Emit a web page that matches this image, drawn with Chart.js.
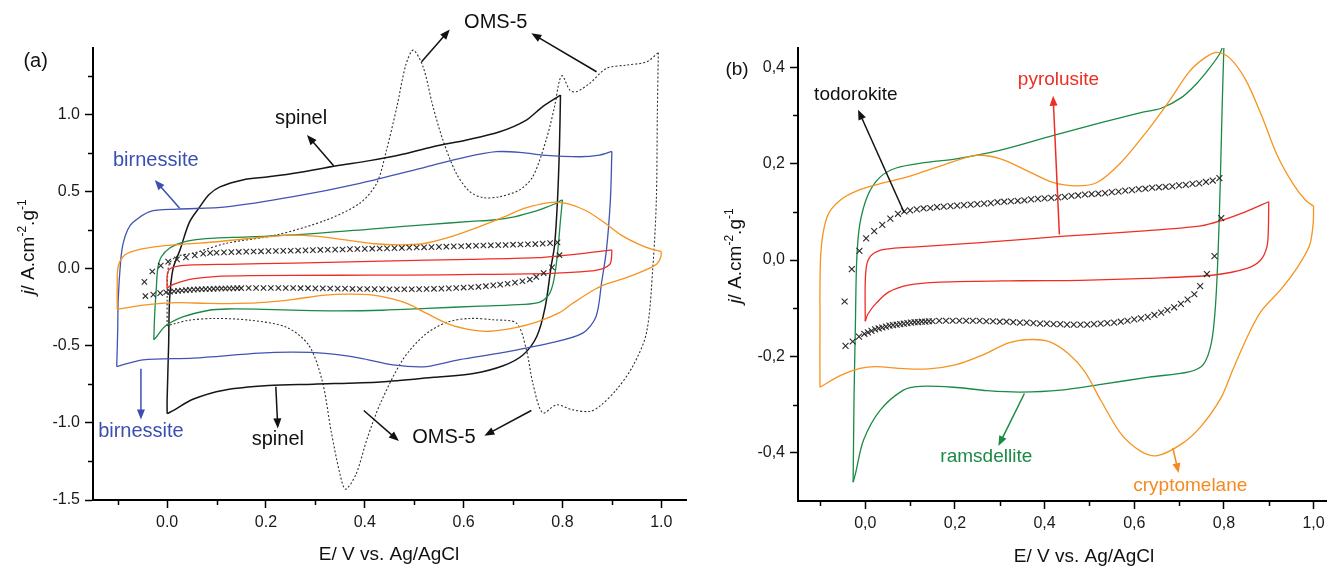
<!DOCTYPE html>
<html>
<head>
<meta charset="utf-8">
<title>Cyclic voltammograms of MnO2 polymorphs</title>
<script src="https://cdn.jsdelivr.net/npm/chart.js@4.4.1/dist/chart.umd.min.js"></script>
<style>
    html, body { margin: 0; padding: 0; background: #fff; overflow: hidden; width: 1327px; height: 566px; }
    #chartA { position: absolute; left: 0; top: 0; }
    #chartB { position: absolute; left: 700px; top: 0; }
</style>
</head>
<body>
<canvas id="chartA" width="700" height="566"></canvas>
<canvas id="chartB" width="660" height="566"></canvas>
<script>
// ---- Data: E (V vs Ag/AgCl) and j (A.cm-2.g-1) ----

// spinel (panel a, black)
const spinelE = [0.000, 0.000, 0.003, 0.005, 0.012, 0.026, 0.045, 0.066, 0.085, 0.107, 0.153, 0.205, 0.270, 0.340, 0.410, 0.470, 0.538, 0.606, 0.673, 0.727, 0.760, 0.796,
    0.794, 0.790, 0.784, 0.777, 0.765, 0.748, 0.720, 0.680, 0.620, 0.540, 0.432, 0.296, 0.205, 0.115, 0.052, 0.015, 0.000];
const spinelJ = [-0.940, -0.850, -0.500, -0.200, 0.000, 0.120, 0.300, 0.400, 0.480, 0.530, 0.575, 0.595, 0.625, 0.665, 0.700, 0.736, 0.790, 0.834, 0.887, 0.963, 1.050, 1.125,
    0.800, 0.445, 0.150, 0.013, -0.250, -0.440, -0.560, -0.630, -0.680, -0.705, -0.735, -0.749, -0.758, -0.788, -0.847, -0.916, -0.940];

// birnessite (panel a, blue)
const birnE = [-0.102, -0.100, -0.099, -0.094, -0.089, -0.080, -0.069, -0.035, 0.019, 0.120, 0.255, 0.390, 0.525, 0.600, 0.666, 0.720, 0.760, 0.835, 0.875, 0.900,
    0.897, 0.889, 0.879, 0.868, 0.841, 0.774, 0.673, 0.592, 0.525, 0.457, 0.390, 0.320, 0.255, 0.187, 0.053, -0.049, -0.102];
const birnJ = [-0.635, -0.400, -0.200, 0.050, 0.164, 0.250, 0.300, 0.370, 0.385, 0.400, 0.466, 0.553, 0.660, 0.720, 0.758, 0.752, 0.736, 0.725, 0.736, 0.760,
    0.445, 0.121, -0.095, -0.310, -0.418, -0.483, -0.548, -0.590, -0.635, -0.624, -0.580, -0.550, -0.542, -0.548, -0.580, -0.591, -0.635];

// OMS-5 (panel a, dotted)
const omsE = [0.000, 0.000, 0.001, 0.005, 0.020, 0.053, 0.120, 0.221, 0.322, 0.390, 0.424, 0.444, 0.465, 0.483, 0.498, 0.518, 0.538, 0.558, 0.585, 0.612, 0.640, 0.673, 0.713, 0.740, 0.767, 0.784, 0.794, 0.800,
    0.815, 0.828, 0.855, 0.889, 0.929, 0.970, 0.994, 0.992, 0.990, 0.983, 0.970, 0.942, 0.909, 0.875, 0.855, 0.820, 0.788, 0.760, 0.740, 0.727, 0.707,
    0.660, 0.613, 0.567, 0.522, 0.477, 0.432, 0.405, 0.382, 0.361, 0.350, 0.332, 0.314, 0.287, 0.242, 0.169, 0.097, 0.043, 0.015, 0.000];
const omsJ = [-0.370, -0.200, -0.050, 0.035, 0.080, 0.100, 0.164, 0.218, 0.315, 0.424, 0.553, 0.769, 1.050, 1.320, 1.416, 1.308, 1.050, 0.834, 0.618, 0.500, 0.460, 0.466, 0.510, 0.596, 0.834, 1.050, 1.220, 1.250,
    1.157, 1.146, 1.200, 1.298, 1.319, 1.340, 1.400, 1.000, 0.445, 0.013, -0.417, -0.635, -0.786, -0.893, -0.926, -0.915, -0.883, -0.935, -0.742, -0.527, -0.354,
    -0.332, -0.323, -0.347, -0.428, -0.590, -0.870, -1.100, -1.335, -1.430, -1.335, -1.056, -0.730, -0.498, -0.381, -0.335, -0.323, -0.335, -0.358, -0.370];

// ramsdellite (green)
const ramsE = [-0.027, -0.025, -0.022, -0.019, -0.012, 0.006, 0.033, 0.069, 0.132, 0.203, 0.302, 0.418, 0.526, 0.615, 0.660, 0.705, 0.740, 0.767, 0.790, 0.797, 0.800,
    0.796, 0.792, 0.787, 0.781, 0.772, 0.754, 0.722, 0.633, 0.526, 0.436, 0.346, 0.272, 0.197, 0.122, 0.085, 0.033, -0.004, -0.021, -0.027];
const ramsJ = [-0.461, -0.285, -0.135, 0.000, 0.075, 0.135, 0.172, 0.191, 0.202, 0.210, 0.228, 0.258, 0.285, 0.306, 0.315, 0.337, 0.367, 0.397, 0.427, 0.442, 0.445,
    0.315, 0.165, 0.015, -0.097, -0.172, -0.217, -0.232, -0.243, -0.258, -0.270, -0.274, -0.271, -0.264, -0.262, -0.270, -0.312, -0.374, -0.440, -0.461];

// cryptomelane (orange)
const cryptoE = [-0.101, -0.101, -0.099, -0.085, -0.056, -0.012, 0.040, 0.100, 0.167, 0.248, 0.302, 0.364, 0.418, 0.472, 0.517, 0.570, 0.624, 0.678, 0.722, 0.758, 0.785, 0.812, 0.848, 0.884, 0.919, 0.955, 0.982, 1.000,
    0.999, 0.991, 0.964, 0.928, 0.884, 0.857, 0.821, 0.794, 0.749, 0.705, 0.651, 0.615, 0.570, 0.526, 0.490, 0.454, 0.409, 0.364, 0.320, 0.257, 0.203, 0.141, 0.078, 0.024, -0.012, -0.056, -0.101];
const cryptoJ = [-0.264, -0.135, 0.015, 0.090, 0.124, 0.146, 0.160, 0.174, 0.195, 0.217, 0.210, 0.184, 0.161, 0.154, 0.161, 0.202, 0.262, 0.330, 0.390, 0.420, 0.431, 0.420, 0.375, 0.300, 0.217, 0.157, 0.124, 0.112,
    0.075, 0.030, -0.015, -0.060, -0.105, -0.150, -0.225, -0.285, -0.345, -0.382, -0.406, -0.397, -0.360, -0.292, -0.232, -0.195, -0.169, -0.165, -0.172, -0.199, -0.217, -0.226, -0.225, -0.221, -0.225, -0.240, -0.264];

// pyrolusite (red)
const pyroE = [0.000, 0.000, 0.004, 0.015, 0.042, 0.123, 0.257, 0.436, 0.615, 0.749, 0.794, 0.848, 0.900,
    0.899, 0.896, 0.882, 0.853, 0.778, 0.629, 0.480, 0.346, 0.167, 0.096, 0.051, 0.024, 0.006, 0.000];
const pyroJ = [-0.127, -0.045, -0.007, 0.011, 0.022, 0.028, 0.036, 0.049, 0.060, 0.071, 0.082, 0.100, 0.121,
    0.060, 0.028, 0.000, -0.017, -0.031, -0.038, -0.042, -0.043, -0.046, -0.052, -0.067, -0.090, -0.112, -0.127];

// todorokite (crosses), anodic and cathodic branches
const todoUpE = [-0.046, -0.030, -0.013, 0.002, 0.020, 0.038, 0.056, 0.073, 0.087,
    0.100, 0.115, 0.130, 0.145, 0.160, 0.175, 0.190, 0.205, 0.220, 0.235, 0.250, 0.265, 0.280, 0.295, 0.310, 0.325,
    0.340, 0.355, 0.370, 0.385, 0.400, 0.415, 0.430, 0.445, 0.460, 0.475, 0.490, 0.505, 0.520, 0.535, 0.550, 0.565,
    0.580, 0.595, 0.610, 0.625, 0.640, 0.655, 0.670, 0.685, 0.700, 0.715, 0.730, 0.745, 0.760, 0.775, 0.790];
const todoUpJ = [-0.086, -0.019, 0.019, 0.045, 0.060, 0.073, 0.086, 0.096, 0.101,
    0.103, 0.105, 0.107, 0.108, 0.110, 0.111, 0.112, 0.113, 0.114, 0.115, 0.116, 0.117, 0.118, 0.120, 0.121, 0.122,
    0.123, 0.124, 0.126, 0.127, 0.128, 0.129, 0.130, 0.131, 0.133, 0.134, 0.136, 0.137, 0.138, 0.139, 0.141, 0.142,
    0.144, 0.145, 0.147, 0.148, 0.150, 0.151, 0.152, 0.153, 0.155, 0.156, 0.158, 0.159, 0.162, 0.165, 0.170];
const todoDownE = [0.794, 0.779, 0.762, 0.747, 0.734, 0.719, 0.704, 0.689, 0.674,
    0.660, 0.645, 0.630, 0.615, 0.600, 0.585, 0.570, 0.555, 0.540, 0.525, 0.510, 0.495, 0.480, 0.465, 0.450, 0.435, 0.420,
    0.405, 0.390, 0.375, 0.360, 0.345, 0.330, 0.315, 0.300, 0.285, 0.270, 0.255, 0.240, 0.225, 0.210, 0.195, 0.180, 0.165,
    0.150, 0.142, 0.134, 0.126, 0.118, 0.110, 0.102, 0.094, 0.086, 0.078, 0.070, 0.062, 0.054, 0.046, 0.038, 0.030, 0.022, 0.014, 0.006, -0.002,
    -0.014, -0.028, -0.044];
const todoDownJ = [0.087, 0.008, -0.029, -0.054, -0.071, -0.082, -0.091, -0.098, -0.104,
    -0.109, -0.114, -0.118, -0.121, -0.123, -0.126, -0.128, -0.130, -0.131, -0.132, -0.133, -0.134, -0.134, -0.134, -0.134, -0.133, -0.133,
    -0.132, -0.132, -0.131, -0.130, -0.130, -0.129, -0.128, -0.128, -0.127, -0.127, -0.126, -0.126, -0.126, -0.126, -0.126, -0.126, -0.126,
    -0.127, -0.127, -0.128, -0.128, -0.129, -0.129, -0.130, -0.131, -0.132, -0.133, -0.134, -0.135, -0.136, -0.138, -0.140, -0.142, -0.144, -0.147, -0.150, -0.153,
    -0.159, -0.169, -0.178];

// ---- Axis ticks ----
const xTickValues = [0.0, 0.2, 0.4, 0.6, 0.8, 1.0];
const xMinorValues = [-0.1, 0.1, 0.3, 0.5, 0.7, 0.9];
const xTickLabelsA = ['0.0', '0.2', '0.4', '0.6', '0.8', '1.0'];
const xTickLabelsB = ['0,0', '0,2', '0,4', '0,6', '0,8', '1,0'];
const yTickValuesA = [-1.5, -1.0, -0.5, 0.0, 0.5, 1.0];
const yTickLabelsA = ['-1.5', '-1.0', '-0.5', '0.0', '0.5', '1.0'];
const yMinorValuesA = [-1.25, -0.75, -0.25, 0.25, 0.75, 1.25];
const yTickValuesB = [-0.4, -0.2, 0.0, 0.2, 0.4];
const yTickLabelsB = ['-0,4', '-0,2', '0,0', '0,2', '0,4'];
const yMinorValuesB = [-0.3, -0.1, 0.1, 0.3];

// ---- Labels and arrows (in data units) ----
const labelsA = [
    { text: '(a)', e: -0.266, j: 1.345, color: '#111' },
    { text: 'OMS-5', e: 0.665, j: 1.598, color: '#111' },
    { text: 'spinel', e: 0.271, j: 0.976, color: '#111' },
    { text: 'birnessite', e: -0.023, j: 0.698, color: '#3b4fb0' },
    { text: 'birnessite', e: -0.053, j: -1.058, color: '#3b4fb0' },
    { text: 'spinel', e: 0.224, j: -1.106, color: '#111' },
    { text: 'OMS-5', e: 0.560, j: -1.095, color: '#111' }
];
const arrowsA = [
    { e1: 0.515, j1: 1.341, e2: 0.572, j2: 1.550, color: '#111' },
    { e1: 0.869, j1: 1.276, e2: 0.737, j2: 1.525, color: '#111' },
    { e1: 0.337, j1: 0.667, e2: 0.283, j2: 0.866, color: '#111' },
    { e1: 0.025, j1: 0.393, e2: -0.025, j2: 0.574, color: '#3b4fb0' },
    { e1: -0.053, j1: -0.650, e2: -0.053, j2: -0.978, color: '#3b4fb0' },
    { e1: 0.220, j1: -0.766, e2: 0.224, j2: -1.036, color: '#111' },
    { e1: 0.398, j1: -0.920, e2: 0.469, j2: -1.118, color: '#111' },
    { e1: 0.737, j1: -0.920, e2: 0.642, j2: -1.083, color: '#111' }
];
const labelsB = [
    { text: '(b)', e: -0.286, j: 0.395, color: '#111' },
    { text: 'todorokite', e: -0.021, j: 0.343, color: '#111' },
    { text: 'pyrolusite', e: 0.431, j: 0.375, color: '#ee2e24' },
    { text: 'ramsdellite', e: 0.270, j: -0.409, color: '#1b8a45' },
    { text: 'cryptomelane', e: 0.725, j: -0.469, color: '#f58a1f' }
];
const arrowsB = [
    { e1: 0.087, j1: 0.098, e2: -0.016, j2: 0.312, color: '#111' },
    { e1: 0.433, j1: 0.053, e2: 0.419, j2: 0.341, color: '#ee2e24' },
    { e1: 0.355, j1: -0.277, e2: 0.297, j2: -0.386, color: '#1b8a45' },
    { e1: 0.686, j1: -0.390, e2: 0.699, j2: -0.442, color: '#f58a1f' }
];

const FONT = '"Liberation Sans", Arial, Helvetica, sans-serif';
const COLORS = {
    spinel: '#161616',
    birnessite: '#4054b4',
    oms: '#303030',
    ramsdellite: '#1b8a45',
    cryptomelane: '#f7931e',
    pyrolusite: '#ee2e24',
    todorokite: '#2a2a2a'
};

function pts(es, js) {
    const out = [];
    for (let i = 0; i < Math.min(es.length, js.length); i++) out.push({ x: es[i], y: js[i] });
    return out;
}

// A voltammogram is drawn as two scans (forward and reverse) so the
// turning point at the highest potential stays a sharp corner.
function curve(es, js, color, extra) {
    const all = pts(es, js);
    let turn = 0;
    all.forEach((p, i) => { if (p.x > all[turn].x) turn = i; });
    return [all.slice(0, turn + 1), all.slice(turn)].map(d => Object.assign({
        data: d,
        showLine: true,
        borderColor: color,
        backgroundColor: color,
        borderWidth: 1.3,
        pointRadius: 0,
        tension: 0.3,
        fill: false
    }, extra || {}));
}

function crosses(es, js, r) {
    return {
        data: pts(es, js),
        showLine: false,
        pointStyle: 'crossRot',
        pointRadius: r,
        borderWidth: 1.1,
        borderColor: COLORS.todorokite,
        backgroundColor: COLORS.todorokite
    };
}

function drawArrow(ctx, x1, y1, x2, y2, color) {
    const ang = Math.atan2(y2 - y1, x2 - x1);
    const head = 10, half = 4;
    ctx.strokeStyle = color;
    ctx.fillStyle = color;
    ctx.lineWidth = 1.5;
    ctx.beginPath();
    ctx.moveTo(x1, y1);
    ctx.lineTo(x2 - Math.cos(ang) * head * 0.8, y2 - Math.sin(ang) * head * 0.8);
    ctx.stroke();
    ctx.beginPath();
    ctx.moveTo(x2, y2);
    ctx.lineTo(x2 - head * Math.cos(ang) + half * Math.sin(ang), y2 - head * Math.sin(ang) - half * Math.cos(ang));
    ctx.lineTo(x2 - head * Math.cos(ang) - half * Math.sin(ang), y2 - head * Math.sin(ang) + half * Math.cos(ang));
    ctx.closePath();
    ctx.fill();
}

function drawYTitle(ctx, cx, cy, size) {
    const sup = Math.round(size * 0.62);
    const parts = [
        { t: 'j', f: 'italic ' + size + 'px ' + FONT, dy: 0 },
        { t: '/ A.cm', f: size + 'px ' + FONT, dy: 0 },
        { t: '-2', f: sup + 'px ' + FONT, dy: -size * 0.42 },
        { t: '.g', f: size + 'px ' + FONT, dy: 0 },
        { t: '-1', f: sup + 'px ' + FONT, dy: -size * 0.42 }
    ];
    ctx.save();
    ctx.translate(cx, cy);
    ctx.rotate(-Math.PI / 2);
    ctx.fillStyle = '#111';
    ctx.textBaseline = 'alphabetic';
    ctx.textAlign = 'left';
    let w = 0;
    parts.forEach(p => { ctx.font = p.f; p.w = ctx.measureText(p.t).width; w += p.w; });
    let x = -w / 2;
    parts.forEach(p => {
        ctx.font = p.f;
        ctx.fillText(p.t, x, size * 0.36 + p.dy);
        x += p.w;
    });
    ctx.restore();
}

// minor ticks, axis titles, labels and arrows
const decorPlugin = {
    id: 'decor',
    afterDraw(chart, args, opts) {
        const ctx = chart.ctx;
        const xs = chart.scales.x, ys = chart.scales.y;
        const area = chart.chartArea;
        ctx.save();

        ctx.strokeStyle = '#000';
        ctx.lineWidth = 1.5;
        opts.xMinor.forEach(v => {
            const px = Math.round(xs.getPixelForValue(v)) + 0.5;
            ctx.beginPath();
            ctx.moveTo(px, area.bottom);
            ctx.lineTo(px, area.bottom + 5);
            ctx.stroke();
        });
        opts.yMinor.forEach(v => {
            const py = Math.round(ys.getPixelForValue(v)) + 0.5;
            ctx.beginPath();
            ctx.moveTo(area.left, py);
            ctx.lineTo(area.left - 5, py);
            ctx.stroke();
        });

        // x axis title
        ctx.fillStyle = '#111';
        ctx.font = '19px ' + FONT;
        ctx.textAlign = 'center';
        ctx.textBaseline = 'middle';
        ctx.fillText('E/ V vs. Ag/AgCl', opts.xTitle.x, opts.xTitle.y);

        drawYTitle(ctx, opts.yTitle.x, opts.yTitle.y, 19);

        opts.arrows.forEach(a => {
            drawArrow(ctx, xs.getPixelForValue(a.e1), ys.getPixelForValue(a.j1),
                xs.getPixelForValue(a.e2), ys.getPixelForValue(a.j2), a.color);
        });

        ctx.font = opts.labelSize + 'px ' + FONT;
        ctx.textAlign = 'center';
        ctx.textBaseline = 'middle';
        opts.labels.forEach(l => {
            ctx.fillStyle = l.color;
            ctx.fillText(l.text, xs.getPixelForValue(l.e), ys.getPixelForValue(l.j));
        });
        ctx.restore();
    }
};

function makeOptions(cfg) {
    const tickFont = { family: FONT, size: 16 };
    return {
        responsive: false,
        animation: false,
        events: [],
        layout: { padding: { top: 48, right: cfg.padRight, bottom: 0, left: 0 } },
        plugins: {
            legend: { display: false },
            tooltip: { enabled: false },
            decor: cfg.decor
        },
        scales: {
            x: {
                type: 'linear',
                min: -0.15,
                max: 1.05,
                afterBuildTicks: s => { s.ticks = xTickValues.map(v => ({ value: v })); },
                afterFit: s => { s.height = cfg.xHeight; },
                ticks: {
                    autoSkip: false,
                    maxRotation: 0,
                    padding: 5,
                    color: '#1a1a1a',
                    font: tickFont,
                    callback: (v, i) => cfg.xLabels[i]
                },
                grid: { display: true, drawOnChartArea: false, drawTicks: true, tickLength: 8, tickWidth: 1.5, tickColor: '#000' },
                border: { display: true, color: '#000', width: 2 }
            },
            y: {
                type: 'linear',
                min: cfg.yMin,
                max: cfg.yMax,
                afterBuildTicks: s => { s.ticks = cfg.yValues.map(v => ({ value: v })); },
                afterFit: s => { s.width = cfg.yWidth; },
                ticks: {
                    autoSkip: false,
                    padding: 5,
                    color: '#1a1a1a',
                    font: tickFont,
                    callback: (v, i) => cfg.yLabels[i]
                },
                grid: { display: true, drawOnChartArea: false, drawTicks: true, tickLength: 8, tickWidth: 1.5, tickColor: '#000' },
                border: { display: true, color: '#000', width: 2 }
            }
        }
    };
}

// Panel (a)
new Chart(document.getElementById('chartA'), {
    type: 'scatter',
    data: {
        datasets: [
            crosses(todoUpE, todoUpJ, 3.8),
            crosses(todoDownE, todoDownJ, 3.8),
            ...curve(pyroE, pyroJ, COLORS.pyrolusite),
            ...curve(cryptoE, cryptoJ, COLORS.cryptomelane),
            ...curve(ramsE, ramsJ, COLORS.ramsdellite),
            ...curve(birnE, birnJ, COLORS.birnessite),
            ...curve(spinelE, spinelJ, COLORS.spinel, { borderWidth: 1.5 }),
            ...curve(omsE, omsJ, COLORS.oms, { borderWidth: 1.1, borderDash: [2, 2] })
        ]
    },
    options: makeOptions({
        padRight: 14,
        xHeight: 66,
        yWidth: 93,
        yMin: -1.5,
        yMax: 1.43,
        xLabels: xTickLabelsA,
        yValues: yTickValuesA,
        yLabels: yTickLabelsA,
        decor: {
            xMinor: xMinorValues,
            yMinor: yMinorValuesA,
            xTitle: { x: 389, y: 555 },
            yTitle: { x: 27, y: 247 },
            labelSize: 20,
            labels: labelsA,
            arrows: arrowsA
        }
    }),
    plugins: [decorPlugin]
});

// Panel (b)
new Chart(document.getElementById('chartB'), {
    type: 'scatter',
    data: {
        datasets: [
            crosses(todoUpE, todoUpJ, 4.2),
            crosses(todoDownE, todoDownJ, 4.2),
            ...curve(pyroE, pyroJ, COLORS.pyrolusite),
            ...curve(cryptoE, cryptoJ, COLORS.cryptomelane),
            ...curve(ramsE, ramsJ, COLORS.ramsdellite)
        ]
    },
    options: makeOptions({
        padRight: 24,
        xHeight: 65,
        yWidth: 98,
        yMin: -0.5,
        yMax: 0.44,
        xLabels: xTickLabelsB,
        yValues: yTickValuesB,
        yLabels: yTickLabelsB,
        decor: {
            xMinor: xMinorValues,
            yMinor: yMinorValuesB,
            xTitle: { x: 384, y: 557 },
            yTitle: { x: 34, y: 256 },
            labelSize: 19,
            labels: labelsB,
            arrows: arrowsB
        }
    }),
    plugins: [decorPlugin]
});
</script>
</body>
</html>
